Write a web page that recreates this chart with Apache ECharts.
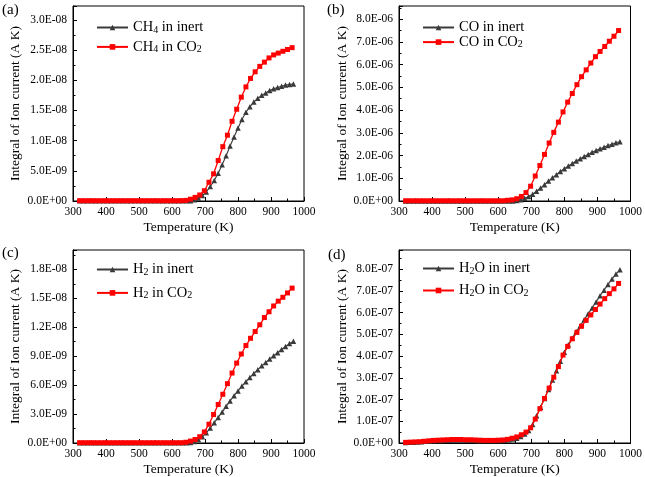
<!DOCTYPE html>
<html>
<head>
<meta charset="utf-8">
<script src="https://cdn.jsdelivr.net/npm/echarts@6/dist/echarts.min.js"></script>
<style>html,body{margin:0;padding:0;background:#fff}#c{width:645px;height:477px}</style>
</head>
<body>
<div id="c"></div>
<script>
// Temperatures (K) of the measured points
const tempInert = [320,332,344,356,368,380,392,404,416,428,440,452,464,476,488,500,512,524,536,548,560,572,584,596,608,620,632,644,656,668,680,692,704,716,728,740,752,764,776,788,800,812,824,836,848,860,872,884,896,908,920,932,944,956,968];
const tempCO2 = [320,334,348,362,376,390,404,418,432,446,460,474,488,502,516,530,544,558,572,586,600,614,628,642,656,670,684,698,712,726,740,754,768,782,796,810,824,838,852,866,880,894,908,922,936,950,964];

// (a) CH4, units of 1e-8 A K
const ch4Inert = [0.003,0.003,0.003,0.003,0.003,0.003,0.003,0.003,0.003,0.003,0.003,0.003,0.003,0.003,0.003,0.003,0.003,0.003,0.003,0.003,0.003,0.003,0.003,0.003,0.003,0.003,0.003,0.003,
  0.005,0.02,0.05,0.09,0.15,0.24,0.34,0.46,0.60,0.75,0.91,1.06,1.21,1.35,1.47,1.56,1.64,1.70,1.75,1.79,1.83,1.86,1.88,1.90,1.92,1.93,1.94];
const ch4CO2 = [0.005,0.005,0.005,0.005,0.005,0.005,0.005,0.005,0.005,0.005,0.005,0.005,0.005,0.005,0.005,0.005,0.005,0.005,0.005,0.005,0.005,0.005,
  0.006,0.01,0.03,0.06,0.10,0.17,0.31,0.45,0.67,0.90,1.09,1.32,1.52,1.72,1.89,2.03,2.14,2.23,2.30,2.37,2.42,2.45,2.48,2.51,2.54];
// (b) CO, units of 1e-6 A K
const coInert = [0.005,0.005,0.005,0.005,0.005,0.005,0.005,0.005,0.005,0.005,0.005,0.005,0.005,0.005,0.005,0.005,0.005,0.005,0.005,0.005,0.005,0.005,0.005,0.005,0.005,0.005,0.005,0.005,
  0.02,0.06,0.12,0.20,0.30,0.43,0.57,0.72,0.88,1.02,1.16,1.30,1.42,1.54,1.65,1.76,1.86,1.96,2.05,2.14,2.22,2.30,2.37,2.44,2.50,2.56,2.61];
const coCO2 = [0.01,0.01,0.01,0.01,0.01,0.01,0.01,0.01,0.01,0.01,0.01,0.01,0.01,0.01,0.01,0.01,0.01,0.01,0.01,0.01,0.01,0.01,
  0.03,0.05,0.10,0.20,0.37,0.65,1.10,1.56,2.05,2.55,3.02,3.47,3.92,4.35,4.73,5.12,5.47,5.77,6.07,6.35,6.58,6.80,7.03,7.25,7.50];
// (c) H2, units of 1e-9 A K
const h2Inert = [0.02,0.02,0.02,0.02,0.02,0.02,0.02,0.02,0.02,0.02,0.02,0.02,0.02,0.02,0.02,0.02,0.02,0.02,0.02,0.02,0.02,0.02,0.02,0.02,0.02,0.02,0.02,0.02,
  0.05,0.15,0.35,0.65,1.05,1.55,2.1,2.65,3.2,3.8,4.35,4.9,5.4,5.9,6.35,6.8,7.2,7.6,8.0,8.35,8.7,9.05,9.35,9.7,10.0,10.3,10.55];
const h2CO2 = [0.03,0.03,0.03,0.03,0.03,0.03,0.03,0.03,0.03,0.03,0.03,0.03,0.03,0.03,0.03,0.03,0.03,0.03,0.03,0.03,0.03,0.03,
  0.03,0.08,0.2,0.36,0.65,1.15,1.95,2.95,3.99,5.05,6.15,7.25,8.28,9.22,10.1,10.85,11.55,12.25,13.0,13.6,14.2,14.7,15.1,15.55,16.05];
// (d) H2O, units of 1e-7 A K
const h2oInert = [0.02,0.03,0.04,0.05,0.06,0.08,0.09,0.10,0.11,0.12,0.13,0.13,0.14,0.14,0.14,0.14,0.13,0.13,0.12,0.12,0.11,0.11,0.11,0.11,0.12,0.13,0.15,0.19,
  0.22,0.30,0.42,0.58,0.85,1.25,1.65,2.05,2.47,2.90,3.33,3.76,4.18,4.52,4.83,5.12,5.40,5.68,5.95,6.22,6.50,6.78,7.04,7.30,7.55,7.78,7.98];
const h2oCO2 = [0.03,0.04,0.05,0.06,0.08,0.10,0.12,0.13,0.14,0.15,0.16,0.16,0.16,0.15,0.15,0.14,0.13,0.12,0.12,0.12,0.13,0.14,
  0.17,0.22,0.28,0.38,0.50,0.70,1.10,1.58,2.05,2.53,3.03,3.52,4.05,4.45,4.80,5.10,5.38,5.65,5.90,6.15,6.40,6.65,6.88,7.10,7.35];

const panelLabels = ['(a)','(b)','(c)','(d)'];
const seriesNames = [['CH4 in inert','CH4 in CO2'],['CO in inert','CO in CO2'],['H2 in inert','H2 in CO2'],['H2O in inert','H2O in CO2']];
const unitScale = [1e-8, 1e-6, 1e-9, 1e-7];
const yMax = [3.23, 8.58, 20, 8.89];
const yInterval = [0.5, 1, 3, 1];
const xTicks = {min: 300, max: 1000, interval: 100};
const xName = 'Temperature (K)';
const yName = 'Integral of Ion current (A K)';

const inertData = [ch4Inert, coInert, h2Inert, h2oInert];
const co2Data = [ch4CO2, coCO2, h2CO2, h2oCO2];

const FONT = 'Liberation Serif';
const grids = [
  {left: 73, top: 6, width: 231, height: 195},
  {left: 399, top: 6, width: 233, height: 195},
  {left: 73, top: 250, width: 231, height: 193},
  {left: 399, top: 250, width: 233, height: 193}
];
const legendPos = [
  {left: 96, top: 20, itemGap: 4.4},
  {left: 422, top: 20, itemGap: -0.4},
  {left: 96, top: 262, itemGap: 8.4},
  {left: 422, top: 261, itemGap: 7}
];
const labelPos = [[2, 3], [327, 3], [2, 246], [328, 248]];
const yNameGap = [51, 49, 51, 49];

function sci(v, scale) {
  if (Math.abs(v) < 1e-9) return '0.0E+00';
  const val = v * scale;
  let e = Math.floor(Math.log10(Math.abs(val)) + 1e-9);
  let m = (val / Math.pow(10, e)).toFixed(1);
  if (m === '10.0') { e += 1; m = '1.0'; }
  return m + 'E' + (e < 0 ? '-' : '+') + String(Math.abs(e)).padStart(2, '0');
}
function pairs(xs, ys) { return xs.map((x, i) => [x, ys[i]]); }

const xAxis = [], yAxis = [], series = [], legend = [], graphic = [];
for (let i = 0; i < 4; i++) {
  xAxis.push({
    type: 'value', gridIndex: i, min: xTicks.min, max: xTicks.max, interval: xTicks.interval,
    name: xName, nameLocation: 'middle', nameGap: 19,
    nameTextStyle: {fontFamily: FONT, fontSize: 13.5, color: '#000'},
    axisLine: {show: true, lineStyle: {color: '#000', width: 1}},
    axisTick: {show: true, inside: true, length: 4, lineStyle: {color: '#000'}},
    minorTick: {show: true, splitNumber: 2, length: 2.5, lineStyle: {color: '#000'}},
    axisLabel: {fontFamily: FONT, fontSize: 11.5, color: '#000', margin: 5, formatter: (v) => String(v)},
    splitLine: {show: false}
  });
  yAxis.push({
    type: 'value', gridIndex: i, min: 0, max: yMax[i], interval: yInterval[i],
    name: yName, nameLocation: 'middle', nameGap: yNameGap[i],
    nameTextStyle: {fontFamily: FONT, fontSize: 13.5, color: '#000'},
    axisLine: {show: true, lineStyle: {color: '#000', width: 1}},
    axisTick: {show: true, inside: true, length: 4, lineStyle: {color: '#000'}},
    minorTick: {show: true, splitNumber: 2, length: 2.5, lineStyle: {color: '#000'}},
    axisLabel: {fontFamily: FONT, fontSize: 11.5, color: '#000', margin: 6, showMaxLabel: false,
      formatter: (v) => sci(v, unitScale[i])},
    splitLine: {show: false}
  });
  series.push({
    type: 'line', name: seriesNames[i][0], xAxisIndex: i, yAxisIndex: i,
    data: pairs(tempInert, inertData[i]), symbol: 'triangle', symbolSize: 5.5,
    itemStyle: {color: '#3a3a3a'}, lineStyle: {color: '#3a3a3a', width: 1.1}, z: 2
  });
  series.push({
    type: 'line', name: seriesNames[i][1], xAxisIndex: i, yAxisIndex: i,
    data: pairs(tempCO2, co2Data[i]), symbol: 'rect', symbolSize: 5,
    itemStyle: {color: '#ff0000'}, lineStyle: {color: '#ff0000', width: 1.3}, z: 3
  });
  legend.push({
    data: seriesNames[i], orient: 'vertical', left: legendPos[i].left, top: legendPos[i].top,
    itemGap: legendPos[i].itemGap, padding: 0, itemWidth: 31, itemHeight: 7, selectedMode: false,
    formatter: (name) => name.replace(/([A-Z])(\d)/g, '$1{s|$2}'),
    textStyle: {fontFamily: FONT, fontSize: 14.5, color: '#000', lineHeight: 15,
      rich: {s: {fontFamily: FONT, fontSize: 10, lineHeight: 6, verticalAlign: 'bottom', color: '#000'}}}
  });
  graphic.push({
    type: 'text', left: labelPos[i][0], top: labelPos[i][1],
    style: {text: panelLabels[i], fontFamily: FONT, fontSize: 15, fill: '#000'}
  });
}

const chart = echarts.init(document.getElementById('c'), null, {renderer: 'canvas'});
chart.setOption({
  animation: false,
  backgroundColor: '#fff',
  grid: grids.map(g => Object.assign({show: true, borderColor: '#000', borderWidth: 1, backgroundColor: 'transparent'}, g)),
  xAxis, yAxis, series, legend, graphic
});
</script>
</body>
</html>
